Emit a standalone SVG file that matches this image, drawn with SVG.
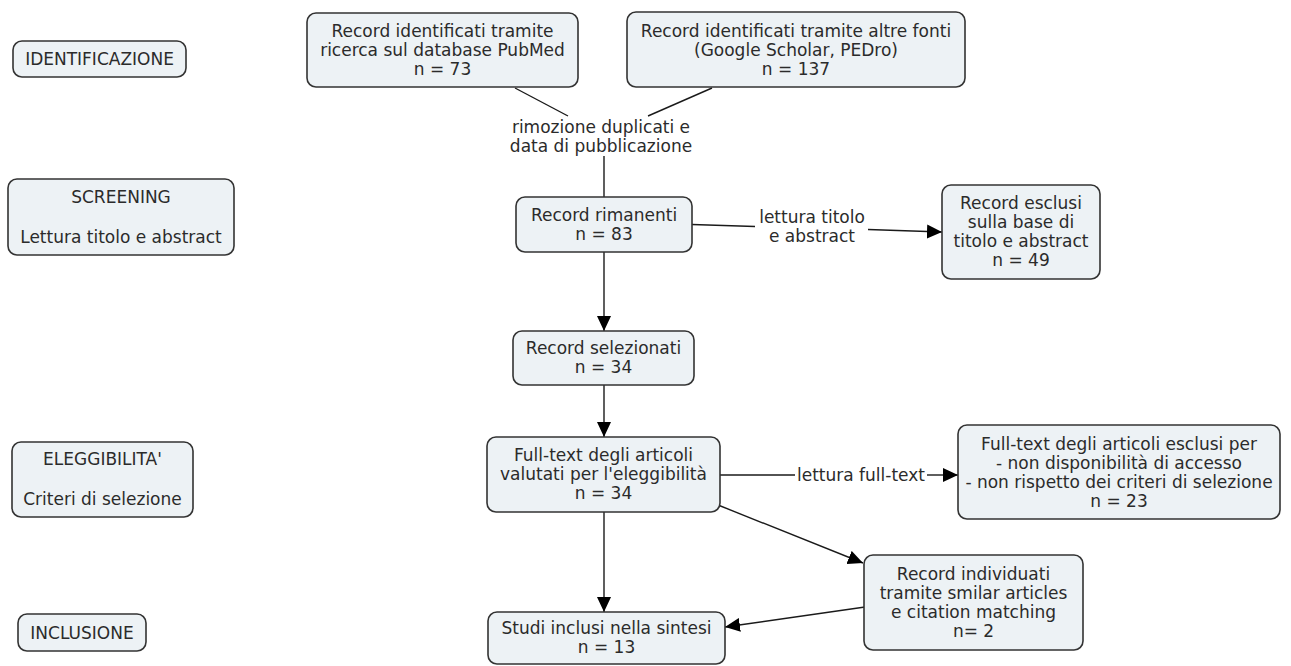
<svg xmlns="http://www.w3.org/2000/svg" width="1291" height="666" viewBox="0 0 1291 666">
<style>
.box{fill:#edf2f5;stroke:#333;stroke-width:1.6}
text{font-family:"DejaVu Sans",sans-serif;font-size:17px;fill:#2b2b2b;text-anchor:middle}
.c{fill:none;stroke:#1a1a1a;stroke-width:1.4}
.a{marker-end:url(#ah)}
</style>
<defs>
<marker id="ah" markerUnits="userSpaceOnUse" markerWidth="16" markerHeight="14" refX="15" refY="7" orient="auto">
<path d="M0,0 L15,7 L0,14 Z" fill="#000"/>
</marker>
</defs>
<rect width="1291" height="666" fill="#fff"/>
<g id="connectors">
<line class="c" x1="515" y1="88" x2="568" y2="116"/>
<line class="c" x1="712" y1="88" x2="648" y2="116"/>
<line class="c" x1="604" y1="156" x2="604" y2="197"/>
<line class="c" x1="692" y1="224.5" x2="755" y2="226.5"/>
<line class="c a" x1="868" y1="229.5" x2="942" y2="232"/>
<line class="c a" x1="604" y1="252" x2="604" y2="331"/>
<line class="c a" x1="604" y1="385" x2="604" y2="437"/>
<line class="c" x1="720" y1="475" x2="795" y2="475"/>
<line class="c a" x1="927" y1="475" x2="958" y2="475"/>
<line class="c a" x1="718" y1="505" x2="863" y2="563"/>
<line class="c a" x1="865" y1="607" x2="725" y2="627"/>
<line class="c a" x1="604" y1="512" x2="604" y2="612"/>
<text x="601" y="133">rimozione duplicati e</text>
<text x="601" y="152">data di pubblicazione</text>
<text x="812" y="223">lettura titolo</text>
<text x="812" y="242">e abstract</text>
<text x="861" y="481">lettura full-text</text>
</g>
<g id="identificazione">
<rect class="box" x="13" y="41" width="173" height="36" rx="9"/>
<text x="99.5" y="65">IDENTIFICAZIONE</text>
</g>
<g id="screening">
<rect class="box" x="8" y="179" width="226" height="76" rx="9"/>
<text x="121" y="203">SCREENING</text>
<text x="121" y="243">Lettura titolo e abstract</text>
</g>
<g id="eleggibilita">
<rect class="box" x="12" y="442" width="181" height="75" rx="9"/>
<text x="102.5" y="465">ELEGGIBILITA'</text>
<text x="102.5" y="505">Criteri di selezione</text>
</g>
<g id="inclusione">
<rect class="box" x="18" y="614" width="128" height="37" rx="9"/>
<text x="82" y="638.5">INCLUSIONE</text>
</g>
<g id="pubmed">
<rect class="box" x="307" y="13" width="271" height="74" rx="9"/>
<text x="442.5" y="37">Record identificati tramite</text>
<text x="442.5" y="56">ricerca sul database PubMed</text>
<text x="442.5" y="75">n = 73</text>
</g>
<g id="altre-fonti">
<rect class="box" x="627" y="12" width="338" height="75" rx="9"/>
<text x="796" y="37">Record identificati tramite altre fonti</text>
<text x="796" y="56">(Google Scholar, PEDro)</text>
<text x="796" y="75">n = 137</text>
</g>
<g id="rimanenti">
<rect class="box" x="516" y="197" width="176" height="55" rx="9"/>
<text x="604" y="221">Record rimanenti</text>
<text x="604" y="240">n = 83</text>
</g>
<g id="esclusi-titolo">
<rect class="box" x="942" y="185" width="158" height="94" rx="9"/>
<text x="1021" y="209">Record esclusi</text>
<text x="1021" y="228">sulla base di</text>
<text x="1021" y="247">titolo e abstract</text>
<text x="1021" y="266">n = 49</text>
</g>
<g id="selezionati">
<rect class="box" x="513" y="331" width="181" height="54" rx="9"/>
<text x="603.5" y="354">Record selezionati</text>
<text x="603.5" y="373">n = 34</text>
</g>
<g id="fulltext">
<rect class="box" x="487" y="437" width="233" height="75" rx="9"/>
<text x="603.5" y="461">Full-text degli articoli</text>
<text x="603.5" y="480">valutati per l'eleggibilità</text>
<text x="603.5" y="499">n = 34</text>
</g>
<g id="fulltext-esclusi">
<rect class="box" x="958" y="425" width="322" height="94" rx="9"/>
<text x="1119" y="450">Full-text degli articoli esclusi per</text>
<text x="1119" y="469">- non disponibilità di accesso</text>
<text x="1119" y="488">- non rispetto dei criteri di selezione</text>
<text x="1119" y="507">n = 23</text>
</g>
<g id="individuati">
<rect class="box" x="864" y="555" width="219" height="95" rx="9"/>
<text x="973.5" y="580">Record individuati</text>
<text x="973.5" y="599">tramite smilar articles</text>
<text x="973.5" y="618">e citation matching</text>
<text x="973.5" y="637">n= 2</text>
</g>
<g id="inclusi">
<rect class="box" x="488" y="612" width="237" height="52" rx="9"/>
<text x="606.5" y="634">Studi inclusi nella sintesi</text>
<text x="606.5" y="653">n = 13</text>
</g>
</svg>
